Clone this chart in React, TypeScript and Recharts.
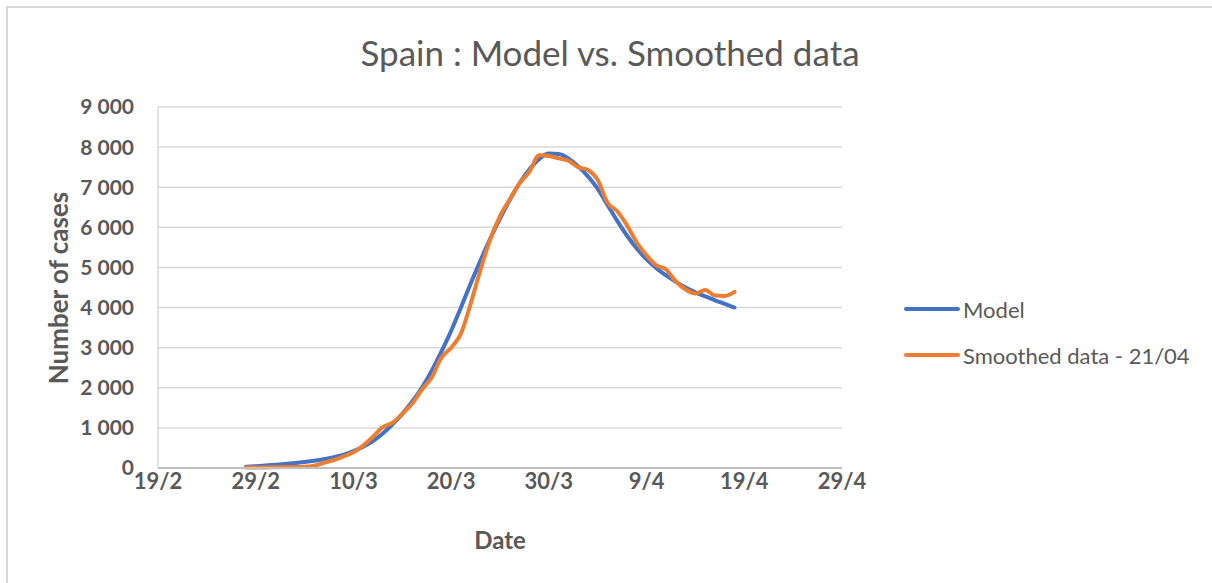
import React from 'react';
import { LineChart, Line, XAxis, YAxis, CartesianGrid, Legend } from 'recharts';

const dates: string[] = [
  '28/2', '29/2',
  '1/3', '2/3', '3/3', '4/3', '5/3', '6/3', '7/3', '8/3', '9/3', '10/3',
  '11/3', '12/3', '13/3', '14/3', '15/3', '16/3', '17/3', '18/3', '19/3', '20/3',
  '21/3', '22/3', '23/3', '24/3', '25/3', '26/3', '27/3', '28/3', '29/3', '30/3', '31/3',
  '1/4', '2/4', '3/4', '4/4', '5/4', '6/4', '7/4', '8/4', '9/4', '10/4',
  '11/4', '12/4', '13/4', '14/4', '15/4', '16/4', '17/4', '18/4',
];

const modelValues: number[] = [
  30, 45,
  60, 80, 100, 125, 150, 180, 220, 270, 330, 420,
  530, 670, 860, 1090, 1350, 1650, 2000, 2420, 2900, 3420,
  4000, 4600, 5170, 5720, 6220, 6680, 7100, 7440, 7700, 7840, 7830,
  7720, 7520, 7270, 6960, 6560, 6160, 5790, 5470, 5200, 4980,
  4800, 4640, 4500, 4380, 4280, 4180, 4090, 4000,
];

const smoothedValues: number[] = [
  10, 12,
  15, 18, 22, 26, 30, 60, 130, 200, 290, 390,
  560, 780, 1020, 1130, 1350, 1600, 1950, 2250, 2750, 3000,
  3350, 4100, 4940, 5700, 6280, 6700, 7100, 7380, 7800, 7780, 7720,
  7660, 7500, 7430, 7180, 6620, 6400, 6050, 5620, 5300, 5050,
  4950, 4650, 4450, 4350, 4440, 4300, 4290, 4390,
];

const xTickLabels: string[] = ['19/2', '29/2', '10/3', '20/3', '30/3', '9/4', '19/4', '29/4'];
const yTicks: number[] = [0, 1000, 2000, 3000, 4000, 5000, 6000, 7000, 8000, 9000];

const seriesNames = { model: 'Model', smoothed: 'Smoothed data - 21/04' };
const COLORS = { model: '#4472C4', smoothed: '#ED7D31' };
const TEXT = '#595959';
const FONT = 'Lato, "Open Sans", sans-serif';

// day offset from 19/2/2020
function dayOffset(s: string): number {
  const [d, m] = s.split('/').map(Number);
  if (m === 2) return d - 19;
  if (m === 3) return d + 10;
  return d + 41;
}

const data = dates.map((s, i) => ({
  day: dayOffset(s),
  model: modelValues[i],
  smoothed: smoothedValues[i],
}));

const xTickValues = xTickLabels.map(dayOffset);

const fmtThousands = (v: number) => {
  if (v < 1000) return String(v);
  const th = Math.floor(v / 1000);
  const rest = String(v % 1000).padStart(3, '0');
  return `${th} ${rest}`;
};

const LegendContent = () => (
  <div style={{ fontFamily: FONT, color: TEXT, fontSize: 22 }}>
    {[
      { key: 'model', label: seriesNames.model, color: COLORS.model },
      { key: 'smoothed', label: seriesNames.smoothed, color: COLORS.smoothed },
    ].map((it, i) => (
      <div key={it.key} style={{ display: 'flex', alignItems: 'center', height: 24, marginTop: i === 0 ? 0 : 22 }}>
        <svg width={58} height={10} style={{ display: 'block' }}>
          <line x1={3} y1={5} x2={55} y2={5} stroke={it.color} strokeWidth={4} strokeLinecap="round" />
        </svg>
        <span style={{ marginLeft: 2, whiteSpace: 'nowrap' }}>{it.label}</span>
      </div>
    ))}
  </div>
);

const XLabel = (props: any) => {
  const vb = props.viewBox || {};
  return (
    <text x={vb.x + vb.width / 2} y={549} textAnchor="middle" fill={TEXT}
      style={{ fontFamily: FONT, fontWeight: 700, fontSize: 24 }}>Date</text>
  );
};

const YLabel = () => (
  <text x={68} y={288} transform="rotate(-90 68 288)" textAnchor="middle" fill={TEXT}
    style={{ fontFamily: FONT, fontWeight: 700, fontSize: 26 }}>Number of cases</text>
);

export default function App() {
  return (
    <div style={{ position: 'absolute', left: 0, top: 0, width: 1212, height: 583, overflow: 'hidden', background: '#fff' }}>
      <div style={{ position: 'absolute', left: 6, top: 6, width: 1400, height: 800, borderLeft: '2px solid #d9d9d9', borderTop: '2px solid #d9d9d9' }} />
      <div style={{ position: 'absolute', left: 0, top: 30, width: 1220, textAlign: 'center', fontFamily: FONT, fontSize: 35, color: TEXT, lineHeight: '44px' }}>
        Spain : Model vs. Smoothed data
      </div>
      <div style={{ position: 'absolute', left: 0, top: 0 }}>
        <LineChart width={1212} height={583} data={data} margin={{ top: 107, right: 370, bottom: 30, left: 0 }}>
          <CartesianGrid vertical={false} stroke="#d9d9d9" strokeWidth={1.5} />
          <XAxis
            dataKey="day"
            type="number"
            domain={[0, 70]}
            ticks={xTickValues}
            tickFormatter={(v: number) => xTickLabels[xTickValues.indexOf(v)] ?? ''}
            tickLine={false}
            tickSize={0}
            tickMargin={5}
            height={85}
            axisLine={{ stroke: '#bfbfbf', strokeWidth: 2 }}
            tick={{ fill: TEXT, fontFamily: FONT, fontWeight: 700, fontSize: 22 }}
            interval={0}
            label={<XLabel />}
          />
          <YAxis
            type="number"
            domain={[0, 9000]}
            ticks={yTicks}
            tickFormatter={fmtThousands}
            width={158}
            tickLine={false}
            tickSize={0}
            tickMargin={24}
            interval={0}
            axisLine={{ stroke: '#d9d9d9', strokeWidth: 1.5 }}
            tick={{ fill: TEXT, fontFamily: FONT, fontWeight: 700, fontSize: 21 }}
            label={<YLabel />}
          />
          <Legend
            layout="vertical"
            align="center"
            verticalAlign="middle"
            content={<LegendContent />}
            wrapperStyle={{ left: 903, top: 297, width: 300 }}
          />
          <Line type="monotone" dataKey="model" name={seriesNames.model} stroke={COLORS.model} strokeWidth={4}
            dot={false} isAnimationActive={false} strokeLinecap="round" />
          <Line type="monotone" dataKey="smoothed" name={seriesNames.smoothed} stroke={COLORS.smoothed} strokeWidth={4}
            dot={false} isAnimationActive={false} strokeLinecap="round" />
        </LineChart>
      </div>
    </div>
  );
}
